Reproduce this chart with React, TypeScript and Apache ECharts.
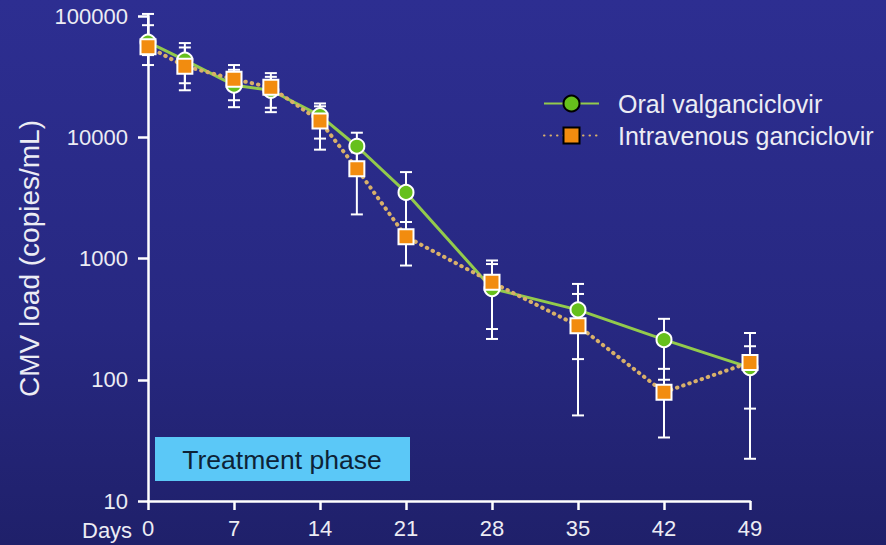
import React, { useEffect, useRef } from "react";
import * as echarts from "echarts";

const days = [0, 3, 7, 10, 14, 17, 21, 28, 35, 42, 49];
const xTicks = [0, 7, 14, 21, 28, 35, 42, 49];
const yTicks = [10, 100, 1000, 10000, 100000];

const oralMean = [61000, 43300, 26900, 24400, 15100, 8430, 3510, 565, 377, 214, 126];
const oralLow = [47600, 27900, 17700, 16100, 9750, 6000, 2000, 217, 148, 100, 22.3];
const oralHigh = [84000, 59800, 36000, 33800, 19000, 10900, 5160, 963, 617, 318, 243];

const ivMean = [55700, 38600, 30100, 25800, 13600, 5500, 1513, 637, 279, 79, 139];
const ivLow = [39400, 24400, 20200, 17500, 7900, 2310, 875, 262, 50.8, 33.4, 57.8];
const ivHigh = [104000, 55000, 39400, 31500, 18000, 7500, 2000, 900, 510, 123, 189];

const seriesNames = ["Oral valganciclovir", "Intravenous ganciclovir"];
const yAxisName = "CMV load (copies/mL)";
const xAxisPrefix = "Days";
const phaseLabel = "Treatment phase";

const FONT = "'Liberation Sans', Arial, Helvetica, sans-serif";
const TEXT = "#ececf4";

function errorBars(low: number[], high: number[]) {
  return days.map((d, i) => [d, low[i], high[i]]);
}

function renderBar(params: any, api: any) {
  const x = api.value(0);
  const lo = api.coord([x, api.value(1)]);
  const hi = api.coord([x, api.value(2)]);
  const half = 6;
  const style = { stroke: "#ffffff", lineWidth: 2 };
  return {
    type: "group",
    children: [
      { type: "line", shape: { x1: lo[0], y1: lo[1], x2: hi[0], y2: hi[1] }, style },
      { type: "line", shape: { x1: lo[0] - half, y1: lo[1], x2: lo[0] + half, y2: lo[1] }, style },
      { type: "line", shape: { x1: hi[0] - half, y1: hi[1], x2: hi[0] + half, y2: hi[1] }, style },
    ],
  };
}

export default function App() {
  const ref = useRef<HTMLDivElement>(null);

  useEffect(() => {
    document.body.style.margin = "0";
    const chart = echarts.init(ref.current!, null, { renderer: "svg" });
    const option: any = {
      animation: false,
      backgroundColor: new echarts.graphic.LinearGradient(0, 0, 0, 1, [
        { offset: 0, color: "#2d2e91" },
        { offset: 0.6, color: "#272881" },
        { offset: 1, color: "#1f206a" },
      ]),
      grid: { left: 148, right: 136, top: 16, bottom: 44, containLabel: false },
      legend: {
        orient: "vertical",
        left: 543,
        top: 91,
        padding: 0,
        itemWidth: 55,
        itemHeight: 20,
        itemGap: 7,
        data: seriesNames,
        textStyle: { color: TEXT, fontSize: 25, fontFamily: FONT, padding: [0, 0, 0, 14] },
        itemStyle: { borderColor: "#000000", borderWidth: 2 },
      },
      xAxis: {
        type: "value",
        min: 0,
        max: 49,
        interval: 7,
        axisLine: { show: true, lineStyle: { color: "#ffffff", width: 2.5 } },
        axisTick: { show: true, length: 9, lineStyle: { color: "#ffffff", width: 2.5 } },
        splitLine: { show: false },
        axisLabel: {
          color: TEXT,
          fontSize: 22,
          fontFamily: FONT,
          margin: 16,
          formatter: (v: number) => (xTicks.includes(v) ? String(v) : ""),
        },
      },
      yAxis: {
        type: "log",
        logBase: 10,
        min: 10,
        max: 100000,
        name: yAxisName,
        nameLocation: "middle",
        nameGap: 104,
        nameTextStyle: { color: TEXT, fontSize: 28, fontFamily: FONT },
        axisLine: { show: true, lineStyle: { color: "#ffffff", width: 2.5 } },
        axisTick: { show: true, length: 10, lineStyle: { color: "#ffffff", width: 2.5 } },
        splitLine: { show: false },
        minorTick: { show: false },
        axisLabel: {
          color: TEXT,
          fontSize: 22,
          fontFamily: FONT,
          margin: 20,
          formatter: (v: number) => (yTicks.includes(Math.round(v)) ? String(Math.round(v)) : ""),
        },
      },
      graphic: [
        {
          type: "rect",
          left: 155,
          top: 437,
          shape: { width: 255, height: 44 },
          style: { fill: "#5bc8f7" },
          z: 1,
        },
        {
          type: "text",
          x: 282,
          y: 460,
          style: {
            text: phaseLabel,
            fill: "#0d2236",
            font: `26.5px ${FONT}`,
            align: "center",
            verticalAlign: "middle",
          },
          z: 2,
        },
        {
          type: "text",
          x: 82,
          y: 530,
          style: {
            text: xAxisPrefix,
            fill: TEXT,
            font: `22px ${FONT}`,
            align: "left",
            verticalAlign: "middle",
          },
        },
      ],
      series: [
        {
          type: "custom",
          name: "oralErr",
          renderItem: renderBar,
          data: errorBars(oralLow, oralHigh),
          encode: { x: 0, y: [1, 2] },
          z: 3,
          silent: true,
        },
        {
          type: "custom",
          name: "ivErr",
          renderItem: renderBar,
          data: errorBars(ivLow, ivHigh),
          encode: { x: 0, y: [1, 2] },
          z: 3,
          silent: true,
        },
        {
          type: "line",
          name: seriesNames[0],
          data: days.map((d, i) => [d, oralMean[i]]),
          symbol: "circle",
          symbolSize: 15,
          lineStyle: { color: "#93ca4c", width: 3 },
          itemStyle: { color: "#66c01c", borderColor: "#ffffff", borderWidth: 2 },
          z: 5,
        },
        {
          type: "line",
          name: seriesNames[1],
          data: days.map((d, i) => [d, ivMean[i]]),
          symbol: "rect",
          symbolSize: 15,
          lineStyle: { color: "#d8b06a", width: 4, type: [0.5, 6], cap: "round" },
          itemStyle: { color: "#f28c0f", borderColor: "#ffffff", borderWidth: 2 },
          z: 6,
        },
      ],
    };
    chart.setOption(option);
    return () => chart.dispose();
  }, []);

  return <div ref={ref} style={{ width: 886, height: 545 }} />;
}
